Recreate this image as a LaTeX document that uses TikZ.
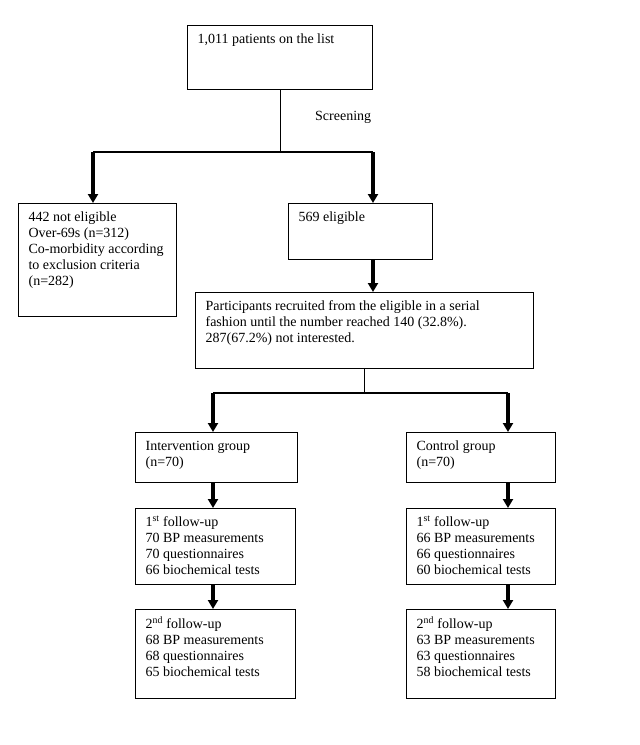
\documentclass[tikz,border=0pt]{standalone}
\usepackage{fontspec}
\setmainfont{Liberation Serif}
\usepackage{tikz}
\usetikzlibrary{arrows.meta, calc}
\tikzset{box/.style = {draw=black, line width=1.2pt, anchor=north west, inner xsep=10pt, inner ysep=7pt, font=\fontsize{14}{16}\selectfont}}
\tikzset{labeltext/.style = {inner sep=0pt, font=\fontsize{14}{16}\selectfont}}
\tikzset{link/.style = {draw=black, line width=1pt}}
\tikzset{branch/.style = {draw=black, line width=1.6pt}}
\tikzset{thickarrow/.style = {draw=black, line width=3.2pt, -{Triangle[width=10pt, length=9pt]}}}

\begin{document}
\begin{tikzpicture}[x=1pt, y=-1pt]
    \useasboundingbox (0, 0) rectangle (640, 745);

    \node [box] (list) at (187, 25) {\parbox[c][50pt][t]{165pt}{\raggedright\strut 1,011 patients on the list}};
    \node [labeltext, anchor=base west] (screening) at (315, 120) {Screening};

    \node [box] (notelig) at (18, 203) {\parbox[c][99pt][t]{138pt}{\raggedright\strut 442 not eligible\\
        Over-69s (n=312)\\
        Co-morbidity according\\
        to exclusion criteria\\
        (n=282)}};
    \node [box] (elig) at (288, 203) {\parbox[c][42pt][t]{124pt}{\raggedright\strut 569 eligible}};

    \node [box] (recruit) at (195, 292) {\parbox[c][62pt][t]{318pt}{\raggedright\strut Participants recruited from the eligible in a serial\\
        fashion until the number reached 140 (32.8\%).\\
        287(67.2\%) not interested.}};

    \node [box] (interv) at (135, 432) {\parbox[c][36pt][t]{142pt}{\raggedright\strut Intervention group\\ (n=70)}};
    \node [box] (control) at (406, 432) {\parbox[c][36pt][t]{129pt}{\raggedright\strut Control group\\ (n=70)}};

    \node [box] (fuA1) at (135, 508) {\parbox[c][62pt][t]{140pt}{\raggedright\strut 1\textsuperscript{st} follow-up\\
        70 BP measurements\\
        70 questionnaires\\
        66 biochemical tests}};
    \node [box] (fuB1) at (406, 508) {\parbox[c][62pt][t]{129pt}{\raggedright\strut 1\textsuperscript{st} follow-up\\
        66 BP measurements\\
        66 questionnaires\\
        60 biochemical tests}};

    \node [box] (fuA2) at (135, 609) {\parbox[c][75pt][t]{140pt}{\raggedright\strut 2\textsuperscript{nd} follow-up\\
        68 BP measurements\\
        68 questionnaires\\
        65 biochemical tests}};
    \node [box] (fuB2) at (406, 609) {\parbox[c][75pt][t]{129pt}{\raggedright\strut 2\textsuperscript{nd} follow-up\\
        63 BP measurements\\
        63 questionnaires\\
        58 biochemical tests}};

    \coordinate (split1) at (list.south |- 0, 152);
    \coordinate (lsplit1) at (93, 152);
    \coordinate (rsplit1) at (373, 152);
    \draw [link] (list.south) -- (split1);
    \draw [branch] (lsplit1) -- (rsplit1);
    \draw [thickarrow] (lsplit1) -- (lsplit1 |- notelig.north);
    \draw [thickarrow] (rsplit1) -- (rsplit1 |- elig.north);
    \draw [thickarrow] (rsplit1 |- elig.south) -- (rsplit1 |- recruit.north);

    \coordinate (split2) at (recruit.south |- 0, 393);
    \coordinate (lsplit2) at (213, 393);
    \coordinate (rsplit2) at (508, 393);
    \draw [link] (recruit.south) -- (split2);
    \draw [branch] (lsplit2) -- (rsplit2);
    \draw [thickarrow] (lsplit2) -- (lsplit2 |- interv.north);
    \draw [thickarrow] (rsplit2) -- (rsplit2 |- control.north);

    \draw [thickarrow] (lsplit2 |- interv.south) -- (lsplit2 |- fuA1.north);
    \draw [thickarrow] (lsplit2 |- fuA1.south) -- (lsplit2 |- fuA2.north);
    \draw [thickarrow] (rsplit2 |- control.south) -- (rsplit2 |- fuB1.north);
    \draw [thickarrow] (rsplit2 |- fuB1.south) -- (rsplit2 |- fuB2.north);
\end{tikzpicture}
\end{document}
